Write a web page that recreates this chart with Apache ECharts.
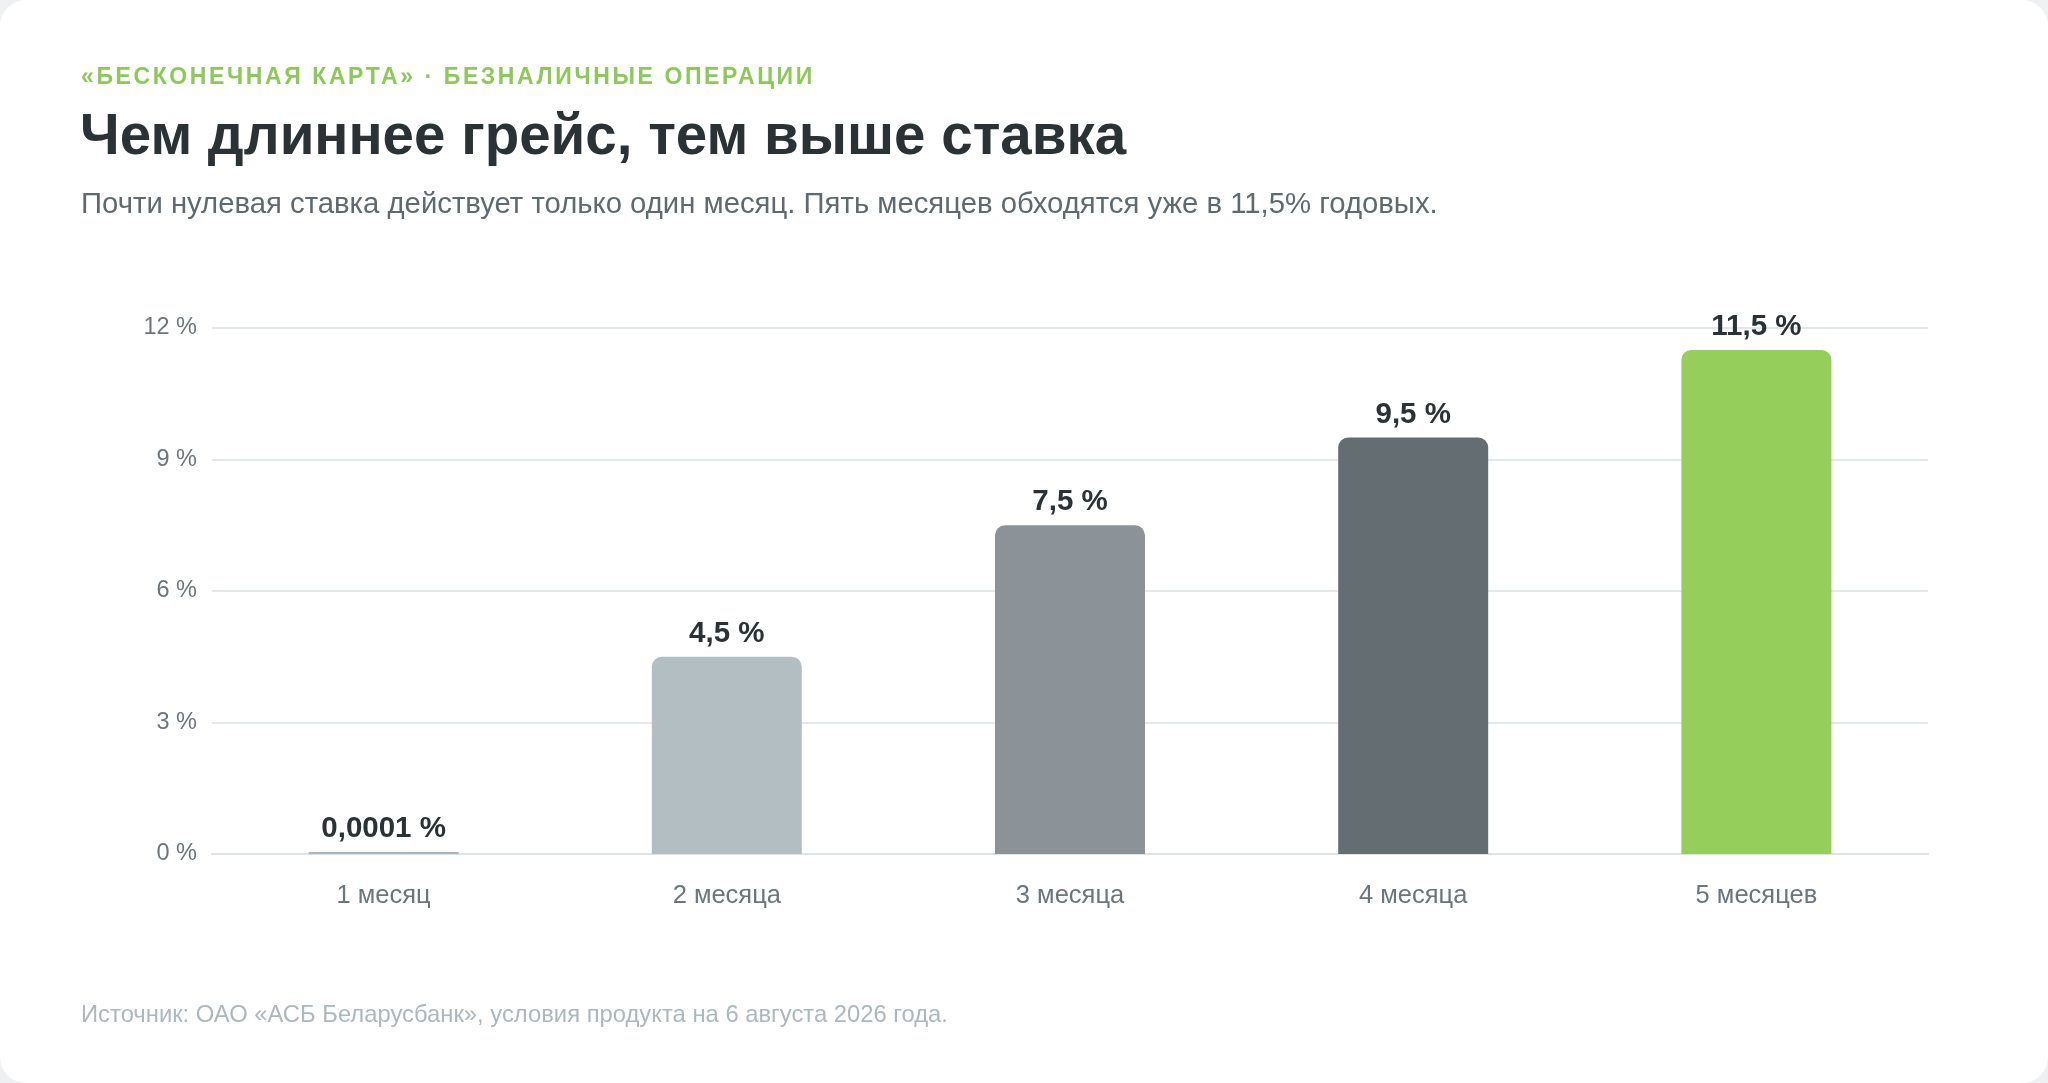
<!DOCTYPE html>
<html lang="ru">
<head>
<meta charset="utf-8">
<title>Чем длиннее грейс, тем выше ставка</title>
<script src="https://cdn.jsdelivr.net/npm/echarts@6/dist/echarts.min.js"></script>
<style>
  html, body { margin: 0; padding: 0; background: #eef0f2; }
  body { width: 2048px; height: 1083px; overflow: hidden; font-family: "Liberation Sans", Arial, sans-serif; }
  .card { position: absolute; left: 0; top: 0; width: 2048px; height: 1083px; background: #fff; border-radius: 26px; }
  .kicker { position: absolute; left: 81px; top: 63px; font-size: 23px; font-weight: bold; letter-spacing: 2.6px; color: #8dc95a; }
  .title { position: absolute; left: 80px; top: 102px; font-size: 56.5px; font-weight: bold; color: #2b3235; margin: 0; }
  .sub { position: absolute; left: 81px; top: 186px; font-size: 29.3px; color: #5f6a70; }
  .source { position: absolute; left: 81px; top: 1000px; font-size: 23.8px; color: #abb8be; }
  #chart { position: absolute; left: 0; top: 0; width: 2048px; height: 1083px; }
</style>
</head>
<body>
<div class="card"></div>
<div id="chart"></div>
<div class="kicker">«БЕСКОНЕЧНАЯ КАРТА» · БЕЗНАЛИЧНЫЕ ОПЕРАЦИИ</div>
<h1 class="title">Чем длиннее грейс, тем выше ставка</h1>
<div class="sub">Почти нулевая ставка действует только один месяц. Пять месяцев обходятся уже в 11,5% годовых.</div>
<div class="source">Источник: ОАО «АСБ Беларусбанк», условия продукта на 6 августа 2026 года.</div>
<script>
// данные графика
var months = ["1 месяц", "2 месяца", "3 месяца", "4 месяца", "5 месяцев"];
var rates = [0.0001, 4.5, 7.5, 9.5, 11.5];
var rateLabels = ["0,0001 %", "4,5 %", "7,5 %", "9,5 %", "11,5 %"];
var barColors = ["#a9b6be", "#b3bec3", "#8b9399", "#636d72", "#96ce5c"];

var chart = echarts.init(document.getElementById("chart"));
var option = {
  animation: false,
  textStyle: { fontFamily: "Liberation Sans, Arial, sans-serif" },
  grid: { left: 212, right: 120, top: 328, bottom: 229, containLabel: false },
  xAxis: {
    type: "category",
    data: months,
    axisLine: { show: true, lineStyle: { color: "#dde3e7", width: 2 } },
    axisTick: { show: false },
    axisLabel: { color: "#6b767c", fontSize: 25.5, margin: 29 }
  },
  yAxis: {
    type: "value",
    min: 0,
    max: 12,
    interval: 3,
    axisLine: { show: false },
    axisTick: { show: false },
    splitLine: { lineStyle: { color: "#e3e8eb", width: 2 } },
    axisLabel: {
      color: "#6b767c", fontSize: 23.5, margin: 15,
      formatter: function (v) { return v + " %"; }
    }
  },
  series: [{
    type: "bar",
    barWidth: 150,
    barMinHeight: 2,
    data: rates.map(function (v, i) {
      return { value: v, itemStyle: { color: barColors[i], borderRadius: i === 0 ? 0 : [10, 10, 0, 0] } };
    }),
    label: {
      show: true,
      position: "top",
      distance: 8,
      color: "#2b3235",
      fontSize: 29.5,
      fontWeight: "bold",
      formatter: function (p) { return rateLabels[p.dataIndex]; }
    }
  }]
};
chart.setOption(option);
</script>
</body>
</html>
